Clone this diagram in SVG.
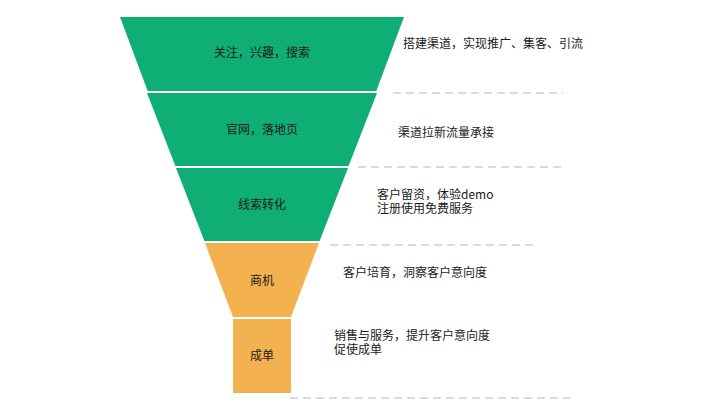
<svg xmlns="http://www.w3.org/2000/svg" width="720" height="405" viewBox="0 0 720 405">
<style>
.g{fill:#0fae75}
.o{fill:#f4b14f}
.t{font-family:"Noto Sans CJK SC","Noto Sans",sans-serif;font-size:12px;fill:#1a1a1a}
.c{text-anchor:middle}
.d{stroke:#cfcfcf;stroke-width:1.6;stroke-dasharray:8 5;fill:none}
</style>
<rect width="720" height="405" fill="#ffffff"/>
<g id="stage1">
<polygon class="g" points="120,17 404,17 376.3,91 147.7,91"/>
<text class="t c" x="262" y="57">关注，兴趣，搜索</text>
</g>
<g id="stage2">
<polygon class="g" points="147,93 377,93 348.6,166 175.4,166"/>
<text class="t c" x="262" y="134">官网，落地页</text>
</g>
<g id="stage3">
<polygon class="g" points="176,168 348,168 319.6,241 204.4,241"/>
<text class="t c" x="262" y="209">线索转化</text>
</g>
<g id="stage4">
<polygon class="o" points="205,243 319,243 291,317 233,317"/>
<text class="t c" x="262" y="285">商机</text>
</g>
<g id="stage5">
<rect class="o" x="233" y="319" width="58" height="74"/>
<text class="t c" x="262" y="360">成单</text>
</g>
<g id="guides">
<line class="d" x1="393" y1="93" x2="563" y2="93"/>
<line class="d" x1="358" y1="167" x2="563" y2="167"/>
<line class="d" x1="330" y1="245" x2="534" y2="245"/>
<line class="d" x1="290" y1="398" x2="570" y2="398"/>
</g>
<g id="notes">
<text class="t" x="403" y="48">搭建渠道，实现推广、集客、引流</text>
<text class="t" x="398" y="137">渠道拉新流量承接</text>
<text class="t" x="377" y="199"><tspan x="377">客户留资，体验demo</tspan><tspan x="377" dy="14">注册使用免费服务</tspan></text>
<text class="t" x="343" y="277">客户培育，洞察客户意向度</text>
<text class="t" x="334" y="340"><tspan x="334">销售与服务，提升客户意向度</tspan><tspan x="334" dy="14">促使成单</tspan></text>
</g>
</svg>
